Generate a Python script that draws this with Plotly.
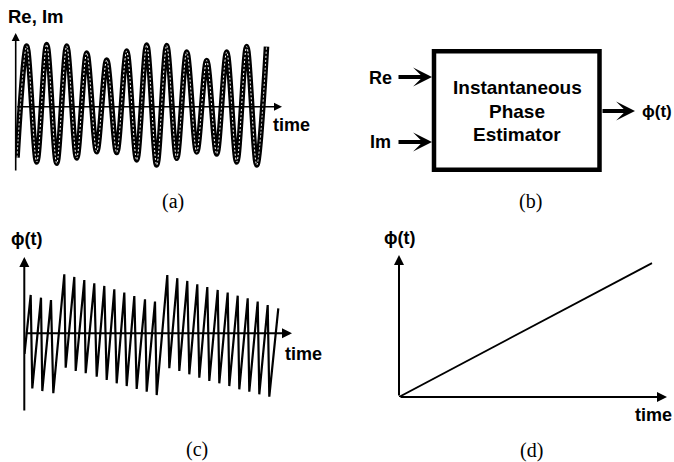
import plotly.graph_objects as go

W, H = 674, 462

# ---- (a) Re/Im baseband signal: alternating extrema (time, amplitude) ----
sig_t = [0.13, 1.1, 2.1, 3.1, 4.1, 5.1, 6.1, 7.1, 8.1, 9.1, 10.1, 11.1, 12.1,
         13.1, 14.1, 15.1, 16.1, 17.1, 18.1, 19.1, 20.1, 21.1, 22.1, 23.1, 24.1, 25.08]
sig_v = [-0.85, 1.01, -0.922, 1.037, -0.943, 1.01, -0.855, 0.895, -0.75, 0.778,
         -0.763, 0.928, -0.888, 1.028, -0.972, 1.02, -0.86, 0.912, -0.755, 0.77,
         -0.788, 0.912, -0.922, 1.003, -0.972, 1.0]

# ---- (c) wrapped instantaneous phase (time, radians) ----
wrap_t = [0.02, 0.64, 0.80, 1.67, 1.80, 2.67, 2.90, 4.00, 4.14, 5.00, 5.14, 6.00, 6.14,
          7.00, 7.24, 8.00, 8.24, 9.00, 9.24, 10.00, 10.24, 11.00, 11.24, 12.07, 12.24,
          13.07, 13.24, 14.30, 14.50, 15.30, 15.50, 16.30, 16.50, 17.30, 17.50, 18.30,
          18.50, 19.34, 19.50, 20.34, 20.50, 21.34, 21.50, 22.34, 22.50, 23.34, 23.50,
          24.34, 24.50, 25.40]
wrap_v = [-1.15, 2.13, -3.06, 1.98, -3.21, 1.85, -3.33, 3.28, -1.91, 3.13, -2.09, 2.96,
          -2.22, 2.78, -2.41, 2.63, -2.59, 2.44, -2.78, 2.26, -2.93, 2.07, -3.09, 1.89,
          -3.24, 1.76, -3.43, 3.24, -1.94, 3.06, -2.09, 2.91, -2.28, 2.72, -2.47, 2.57,
          -2.65, 2.41, -2.78, 2.26, -2.93, 2.09, -3.11, 1.94, -3.24, 1.76, -3.39, 1.57,
          -3.52, 1.39]

# ---- (d) unwrapped phase ----
lin_t = [0.0, 25.3]
lin_v = [0.0, 7.44]

# axis labels
LBL_SIG = "Re, Im"
LBL_TIME = "time"
LBL_PHI = "\u03d5(t)"
BLOCK_TEXT = ["Instantaneous", "Phase", "Estimator"]
PANEL_TAGS = ["(a)", "(b)", "(c)", "(d)"]

SANS = "Liberation Sans, Arial, Helvetica, sans-serif"
SERIF = "Liberation Serif, Times New Roman, serif"


def px(x):
    return x / W


def py(y):
    return 1 - y / H


def axes_for(ox, oy, sx, sy, left, top, right, bottom):
    """Domain and range so that data (0,0) lands at pixel (ox, oy)."""
    xa = dict(domain=[px(left), px(right)],
              range=[(left - ox) / sx, (right - ox) / sx])
    ya = dict(domain=[py(bottom), py(top)],
              range=[(oy - bottom) / sy, (oy - top) / sy])
    return xa, ya


hidden = dict(visible=False, showgrid=False, zeroline=False, fixedrange=True)

# panel boxes: origin, scale (px per unit), extent of the axis arrows
xa1, ya1 = axes_for(15.7, 106.7, 10, 60, 15.7, 33, 282, 172)
xa2, ya2 = axes_for(24.3, 333.3, 10, 18, 24.3, 257, 292, 412)
xa3, ya3 = axes_for(399, 397, 10, 18, 399, 255, 667, 397)

fig = go.Figure()

# (a) Re (solid) with Im (dashed) running through it
fig.add_trace(go.Scatter(x=sig_t, y=sig_v, mode="lines", name="Re",
                         line=dict(color="black", width=5.6, shape="spline", smoothing=0.9),
                         xaxis="x", yaxis="y", hoverinfo="skip"))
fig.add_trace(go.Scatter(x=sig_t, y=sig_v, mode="lines", name="Im",
                         line=dict(color="white", width=1.0, shape="spline", smoothing=0.9,
                                   dash="2px,2px"),
                         xaxis="x", yaxis="y", hoverinfo="skip"))

# (c) wrapped phase
fig.add_trace(go.Scatter(x=wrap_t, y=wrap_v, mode="lines",
                         line=dict(color="black", width=2.2),
                         xaxis="x2", yaxis="y2", hoverinfo="skip"))

# (d) unwrapped phase
fig.add_trace(go.Scatter(x=lin_t, y=lin_v, mode="lines",
                         line=dict(color="black", width=1.8),
                         xaxis="x3", yaxis="y3", hoverinfo="skip"))

ann = []


def axis_arrow(xr, yr, x0, y0, x1, y1, width):
    ann.append(dict(xref=xr, yref=yr, axref=xr, ayref=yr, x=x1, y=y1, ax=x0, ay=y0,
                    text="", showarrow=True, arrowhead=2, arrowsize=1.0,
                    arrowwidth=width, arrowcolor="black", standoff=0, startstandoff=0))


# axes with arrowheads, drawn in each panel's data units
axis_arrow("x", "y", 0, ya1["range"][0], 0, ya1["range"][1], 1.6)
axis_arrow("x", "y", 0, 0, xa1["range"][1], 0, 1.6)
axis_arrow("x2", "y2", 0, ya2["range"][0], 0, ya2["range"][1], 2.0)
axis_arrow("x2", "y2", 0, 0, xa2["range"][1], 0, 2.0)
axis_arrow("x3", "y3", 0, 0, 0, ya3["range"][1], 2.0)
axis_arrow("x3", "y3", 0, 0, xa3["range"][1], 0, 2.0)


def label(text, x, y, size=18, xanchor="center", family=SANS, bold=True):
    ann.append(dict(xref="paper", yref="paper", x=px(x), y=py(y),
                    text=f"<b>{text}</b>" if bold else text,
                    showarrow=False, xanchor=xanchor, yanchor="middle",
                    font=dict(family=family, size=size, color="black")))


label(LBL_SIG, 6, 16, xanchor="left", size=18.5)
label(LBL_TIME, 271, 125, xanchor="left")
label(LBL_PHI, 9, 239, xanchor="left")
label(LBL_TIME, 282.5, 354, xanchor="left")
label(LBL_PHI, 382, 238, xanchor="left")
label(LBL_TIME, 633, 415, xanchor="left")

# (b) block diagram
label("Re", 367, 78, xanchor="left")
label("Im", 368, 142, xanchor="left")
label(LBL_PHI, 640, 111, xanchor="left", size=17)
for i, line in enumerate(BLOCK_TEXT):
    label(line, 517, 87 + 24 * i, size=19)


def block_arrow(x_tail, x_head, y):
    ann.append(dict(xref="paper", yref="paper", axref="pixel", ayref="pixel",
                    x=px(x_head), y=py(y), ax=-(x_head - x_tail), ay=0, text="",
                    showarrow=True, arrowhead=3, arrowsize=0.75, arrowwidth=4.2,
                    arrowcolor="black", standoff=0, startstandoff=0))


block_arrow(397, 432, 77)
block_arrow(397, 432, 142)
block_arrow(601, 635, 111)

# panel tags
for tag, (x, y) in zip(PANEL_TAGS, [(172.5, 202), (530.5, 202), (196.5, 449), (531, 450)]):
    label(tag, x, y, size=20, family=SERIF, bold=False)

shapes = [dict(type="rect", xref="paper", yref="paper",
               x0=px(434), x1=px(599.5), y0=py(169.8), y1=py(51.3),
               line=dict(color="black", width=4.5), fillcolor="rgba(0,0,0,0)")]

fig.update_layout(
    width=W, height=H, margin=dict(l=0, r=0, t=0, b=0),
    paper_bgcolor="white", plot_bgcolor="white", showlegend=False,
    xaxis=dict(**hidden, **xa1), yaxis=dict(**hidden, **ya1),
    xaxis2=dict(**hidden, **xa2, anchor="y2"), yaxis2=dict(**hidden, **ya2, anchor="x2"),
    xaxis3=dict(**hidden, **xa3, anchor="y3"), yaxis3=dict(**hidden, **ya3, anchor="x3"),
    annotations=ann, shapes=shapes,
)

fig.write_html("out.html")
